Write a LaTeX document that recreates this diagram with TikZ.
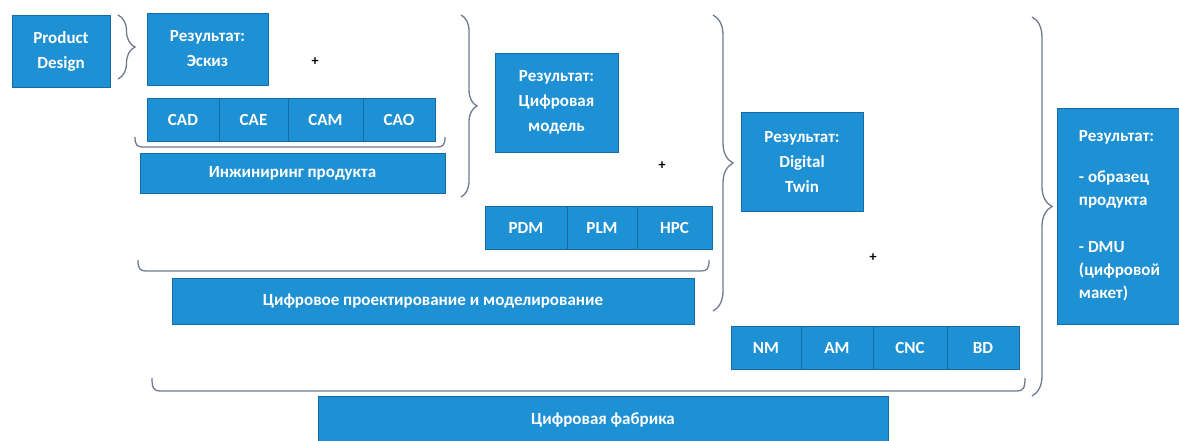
\documentclass[tikz,border=0pt]{standalone}
\usepackage{fontspec}
\setmainfont{Carlito}
\usetikzlibrary{decorations.pathreplacing,calc}
\definecolor{boxblue}{RGB}{30,144,212}
\definecolor{boxedge}{RGB}{22,106,166}
\definecolor{bracegray}{RGB}{112,122,142}
\tikzset{
  blk/.style={rectangle, fill=boxblue, draw=boxedge, line width=0.8pt, text=white,
    font=\fontsize{17}{25}\selectfont\bfseries, align=center, inner sep=0pt},
  cell/.style={blk, minimum height=43pt},
  bline/.style={draw=bracegray, line width=1.3pt},
  brc/.style={bline, decorate, decoration={brace, amplitude=#1}},
  brc/.default=16,
  plussign/.style={font=\fontsize{14}{14}\selectfont\bfseries, text=black, inner sep=0pt}
}
\newcommand{\myhbrace}[3]{%
  \draw[bline] (#1) .. controls +(0,#3*0.8) and +(-6,0) .. ($(#1)+(8,#3)$)
     -- ($(#2)+(-8,#3)$) .. controls +(6,0) and +(0,#3*0.8) .. (#2);}
\begin{document}
\begin{tikzpicture}[x=1pt,y=-1pt]
\useasboundingbox (0,0) rectangle (1179,441);
\clip (0,0) rectangle (1179,441);
% brace end points
\coordinate (b1t) at (118,15);  \coordinate (b1b) at (118,79);
\coordinate (b2t) at (461,15);  \coordinate (b2b) at (461,197);
\coordinate (b3t) at (713,15);  \coordinate (b3b) at (713,311);
\coordinate (b4t) at (1032,17); \coordinate (b4b) at (1032,396);
\coordinate (h1l) at (135,137); \coordinate (h1r) at (445,137);
\coordinate (h2l) at (138,260); \coordinate (h2r) at (709,260);
\coordinate (h3l) at (152,378); \coordinate (h3r) at (1025,378);
\draw[brc=17] (b1t) -- (b1b);
\draw[brc=16] (b2t) -- (b2b);
\draw[brc=20] (b3t) -- (b3b);
\draw[brc=20] (b4t) -- (b4b);
\myhbrace{h1l}{h1r}{10}
\myhbrace{h2l}{h2r}{11}
\myhbrace{h3l}{h3r}{13}
% boxes
\node[blk, minimum width=98pt, minimum height=72pt] (pd) at (61,51) {Product\\Design};
\node[blk, minimum width=121pt, minimum height=72pt] (esk) at (207.5,49) {Результат:\\Эскиз};
\node[cell, minimum width=72pt] (cad) at (183,120) {CAD};
\node[cell, minimum width=69pt] (cae) at (253.5,120) {CAE};
\node[cell, minimum width=75pt] (cam) at (325.5,120) {CAM};
\node[cell, minimum width=72pt] (cao) at (399,120) {CAO};
\node[blk, minimum width=305pt, minimum height=40pt] (ing) at (292.5,173) {Инжиниринг продукта};
\node[blk, minimum width=123pt, minimum height=99pt] (cm) at (556.5,102.5) {Результат:\\Цифровая\\модель};
\node[cell, minimum width=82pt] (pdm) at (526,227.5) {PDM};
\node[cell, minimum width=70pt] (plm) at (602,227.5) {PLM};
\node[cell, minimum width=75pt] (hpc) at (674.5,227.5) {HPC};
\node[blk, minimum width=522pt, minimum height=46pt] (cpm) at (433,301) {Цифровое проектирование и моделирование};
\node[blk, minimum width=122pt, minimum height=99pt] (dt) at (802,161.5) {Результат:\\Digital\\Twin};
\node[cell, minimum width=70pt] (nm) at (766,347.5) {NM};
\node[cell, minimum width=72pt] (am) at (837,347.5) {AM};
\node[cell, minimum width=74pt] (cnc) at (910,347.5) {CNC};
\node[cell, minimum width=72pt] (bd) at (983,347.5) {BD};
\node[blk, minimum width=570pt, minimum height=48pt] (cf) at (603,420) {Цифровая фабрика};
\node[blk, minimum width=125pt, minimum height=216pt, align=left,
      font=\fontsize{17}{23}\selectfont\bfseries] (res) at (1119.5,216)
  {Результат:\\[18pt]- образец\\продукта\\[24pt]- DMU\\(цифровой\\макет)};
% plus signs
\node[plussign] (p1) at (315,62) {+};
\node[plussign] (p2) at (662,166) {+};
\node[plussign] (p3) at (873,258) {+};
\end{tikzpicture}
\end{document}
